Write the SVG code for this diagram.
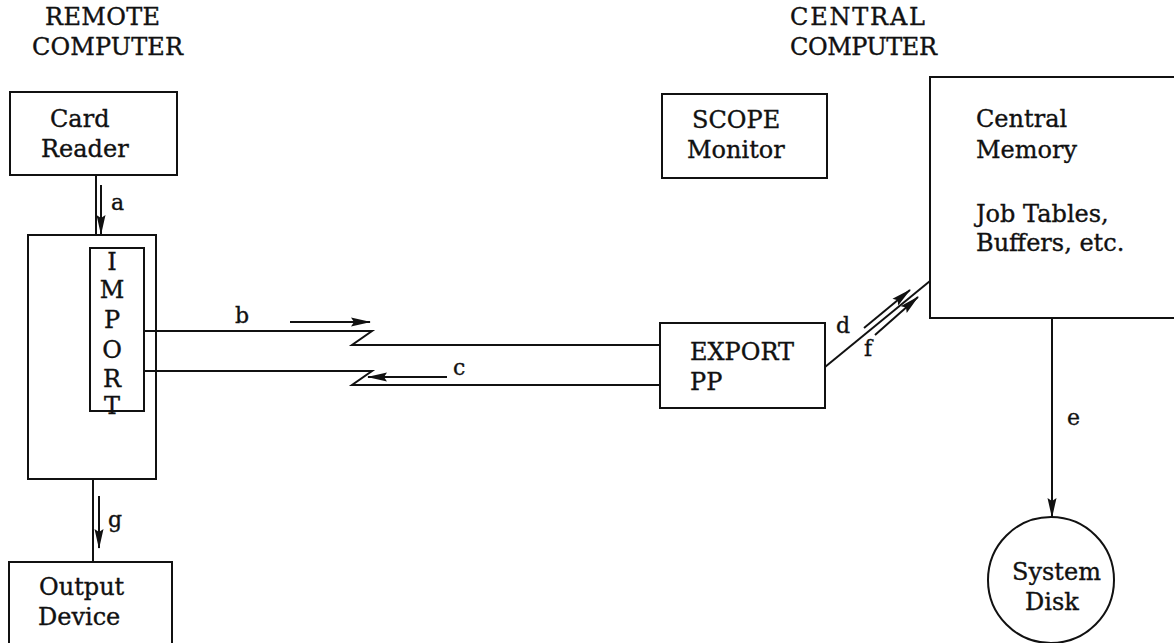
<svg xmlns="http://www.w3.org/2000/svg" width="1174" height="643" viewBox="0 0 1174 643">
<style>
  .box { fill: none; stroke: #111; stroke-width: 2; }
  .ln { fill: none; stroke: #111; stroke-width: 2; }
  .ar { fill: none; stroke: #111; stroke-width: 2; marker-end: url(#ah); }
  text { font-family: "DejaVu Serif", "Liberation Serif", serif; font-size: 24px; fill: #111; stroke: #111; stroke-width: 0.35; }
  .lbl { font-size: 22px; }
  .imp { text-anchor: middle; }
</style>
<defs>
  <marker id="ah" markerUnits="userSpaceOnUse" markerWidth="22" markerHeight="10" refX="19" refY="5" orient="auto">
    <path d="M0,0.5 L20,5 L0,9.5 L3,5 z" fill="#111"/>
  </marker>
</defs>
<rect width="1174" height="643" fill="#fff"/>

<g id="titles">
  <text x="45" y="25" textLength="115" lengthAdjust="spacing">REMOTE</text>
  <text x="32" y="55" textLength="151" lengthAdjust="spacing">COMPUTER</text>
  <text x="790" y="25" textLength="135" lengthAdjust="spacing">CENTRAL</text>
  <text x="790" y="55" textLength="147" lengthAdjust="spacing">COMPUTER</text>
</g>

<g id="connectors">
  <path class="ln" d="M96,175 V235"/>
  <path class="ln" d="M93,479 V562"/>
  <path class="ln" d="M144,331 H372 L352,345 H660"/>
  <path class="ln" d="M144,371 H372 L352,385 H660"/>
  <path class="ln" d="M825,367 L930,281"/>
  <path class="ar" d="M1052,318 V517"/>
  <path class="ar" d="M101,185 V234"/>
  <path class="ar" d="M99,496 V548"/>
  <path class="ar" d="M290,322 H370"/>
  <path class="ar" d="M447,377 H368"/>
  <path class="ar" d="M864,328 L910,290"/>
  <path class="ar" d="M875,335 L918,297"/>
  <text class="lbl" x="111" y="210">a</text>
  <text class="lbl" x="235" y="323">b</text>
  <text class="lbl" x="453" y="375">c</text>
  <text class="lbl" x="836" y="333">d</text>
  <text class="lbl" x="864" y="356">f</text>
  <text class="lbl" x="1067" y="425">e</text>
  <text class="lbl" x="108" y="527">g</text>
</g>

<g id="card-reader">
  <rect class="box" x="10" y="92" width="167" height="83"/>
  <text x="50" y="127">Card</text>
  <text x="41" y="157">Reader</text>
</g>

<g id="remote-computer">
  <rect class="box" x="28" y="235" width="128" height="244"/>
</g>

<g id="import">
  <rect class="box" x="90" y="248" width="54" height="163"/>
  <text class="imp" x="112" y="270">I</text>
  <text class="imp" x="112" y="298">M</text>
  <text class="imp" x="112" y="328">P</text>
  <text class="imp" x="112" y="358">O</text>
  <text class="imp" x="112" y="387">R</text>
  <text class="imp" x="112" y="414">T</text>
</g>

<g id="output-device">
  <rect class="box" x="9" y="562" width="163" height="100"/>
  <text x="39" y="595">Output</text>
  <text x="38" y="625">Device</text>
</g>

<g id="scope-monitor">
  <rect class="box" x="662" y="94" width="165" height="84"/>
  <text x="692" y="128">SCOPE</text>
  <text x="687" y="158">Monitor</text>
</g>

<g id="export-pp">
  <rect class="box" x="660" y="323" width="165" height="85"/>
  <text x="690" y="360">EXPORT</text>
  <text x="690" y="390">PP</text>
</g>

<g id="central-memory">
  <rect class="box" x="930" y="77" width="260" height="241"/>
  <text x="976" y="127">Central</text>
  <text x="976" y="158">Memory</text>
  <text x="976" y="222">Job Tables,</text>
  <text x="976" y="251">Buffers, etc.</text>
</g>

<g id="system-disk">
  <circle class="box" cx="1051" cy="580" r="63"/>
  <text x="1012" y="580">System</text>
  <text x="1025" y="610">Disk</text>
</g>
</svg>
